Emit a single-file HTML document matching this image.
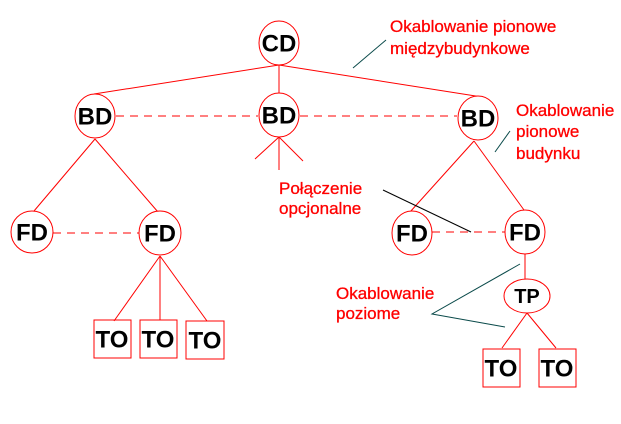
<!DOCTYPE html>
<html><head><meta charset="utf-8"><style>
html,body{margin:0;padding:0;background:#fff;width:621px;height:424px;overflow:hidden}
svg{display:block}
.n{font-family:"Liberation Sans",Arial,sans-serif;font-weight:bold;font-size:24px;fill:#000;text-anchor:middle;dominant-baseline:central}
.t{font-family:"Liberation Sans",Arial,sans-serif;font-size:17px;fill:#f00;stroke:#f00;stroke-width:0.3}
</style></head><body>
<svg width="621" height="424" viewBox="0 0 621 424" xmlns="http://www.w3.org/2000/svg">
<g stroke="#f00" stroke-width="1" fill="none">
<line x1="279" y1="65" x2="94" y2="94"/>
<line x1="279" y1="65" x2="279" y2="93"/>
<line x1="279" y1="65" x2="482" y2="97"/>
<line x1="116" y1="116" x2="258" y2="116" stroke-dasharray="8,6"/>
<line x1="300" y1="116" x2="457" y2="116" stroke-dasharray="8,6"/>
<line x1="279" y1="137" x2="255" y2="159"/>
<line x1="279" y1="137" x2="279" y2="170"/>
<line x1="279" y1="137" x2="303" y2="161"/>
<line x1="95" y1="139" x2="34" y2="211"/>
<line x1="95" y1="139" x2="158" y2="212"/>
<line x1="474" y1="141" x2="410" y2="212"/>
<line x1="474" y1="141" x2="524" y2="210"/>
<line x1="53" y1="233" x2="139" y2="233" stroke-dasharray="8,6"/>
<line x1="432" y1="232" x2="505" y2="232" stroke-dasharray="8,6"/>
<line x1="160" y1="256" x2="114" y2="321"/>
<line x1="160" y1="256" x2="160" y2="320"/>
<line x1="160" y1="256" x2="207" y2="321"/>
<line x1="525" y1="254" x2="525" y2="279"/>
<line x1="527" y1="313" x2="502" y2="348"/>
<line x1="527" y1="313" x2="556" y2="348"/>
<ellipse cx="279" cy="43" rx="20" ry="22" fill="#fff"/>
<ellipse cx="95" cy="116" rx="20" ry="22" fill="#fff"/>
<ellipse cx="279" cy="115" rx="20" ry="22" fill="#fff"/>
<ellipse cx="478" cy="118" rx="20" ry="22" fill="#fff"/>
<ellipse cx="32" cy="232" rx="21" ry="21" fill="#fff"/>
<ellipse cx="160" cy="233" rx="21" ry="22" fill="#fff"/>
<ellipse cx="412" cy="233" rx="20" ry="22" fill="#fff"/>
<ellipse cx="525" cy="232" rx="20" ry="22" fill="#fff"/>
<ellipse cx="527" cy="296" rx="23" ry="17" fill="#fff"/>
<rect x="94" y="320" width="37" height="38"/>
<rect x="140" y="320" width="37" height="38"/>
<rect x="186" y="321" width="38" height="38"/>
<rect x="483" y="349" width="37" height="38"/>
<rect x="539" y="349" width="37" height="38"/>
</g>
<g stroke="#0a4a4a" stroke-width="1" fill="none">
<line x1="353" y1="68" x2="386" y2="40"/>
<line x1="495" y1="152" x2="510" y2="131"/>
<polyline points="520,264 432,314 505,327"/>
</g>
<line x1="383" y1="190" x2="471" y2="232" stroke="#000" stroke-width="1"/>
<text class="n" x="279" y="44">CD</text>
<text class="n" x="95" y="117">BD</text>
<text class="n" x="279" y="116">BD</text>
<text class="n" x="478" y="119">BD</text>
<text class="n" x="32" y="233">FD</text>
<text class="n" x="160" y="234">FD</text>
<text class="n" x="412" y="234">FD</text>
<text class="n" x="525" y="233">FD</text>
<text class="n" x="527" y="297" style="font-size:20px">TP</text>
<text class="n" x="112" y="340">TO</text>
<text class="n" x="158" y="340">TO</text>
<text class="n" x="205" y="341">TO</text>
<text class="n" x="501" y="369">TO</text>
<text class="n" x="557" y="369">TO</text>
<text class="t" x="390" y="32">Okablowanie pionowe</text>
<text class="t" x="390" y="54">międzybudynkowe</text>
<text class="t" x="516" y="116">Okablowanie</text>
<text class="t" x="516" y="137">pionowe</text>
<text class="t" x="516" y="159">budynku</text>
<text class="t" x="279" y="194">Połączenie</text>
<text class="t" x="279" y="214">opcjonalne</text>
<text class="t" x="336" y="299">Okablowanie</text>
<text class="t" x="336" y="319">poziome</text>
</svg>
</body></html>
